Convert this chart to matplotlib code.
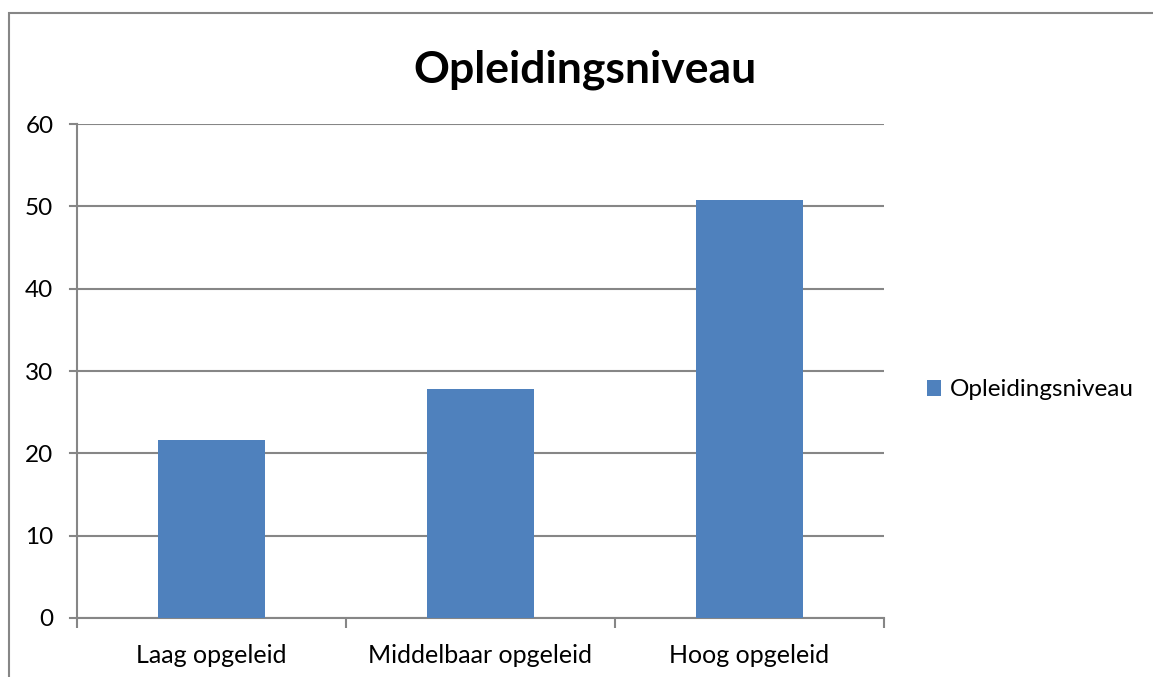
import matplotlib
matplotlib.use("Agg")
import matplotlib.pyplot as plt
from matplotlib.patches import Rectangle

categories = ["Laag opgeleid", "Middelbaar opgeleid", "Hoog opgeleid"]
values = [21.6, 27.8, 50.8]
series_name = "Opleidingsniveau"
yticks = [0, 10, 20, 30, 40, 50, 60]

W, H = 1153, 677
plt.rcParams['font.family'] = ['Lato', 'DejaVu Sans']
fig = plt.figure(figsize=(W / 100, H / 100), dpi=100)

gray = "#868686"
# outer chart frame (partly cut off at right/bottom)
fig.patches.append(Rectangle((8.5 / W, -0.1), 1.2, 1 - 12.5 / H + 0.1, transform=fig.transFigure,
                             fill=False, edgecolor=gray, linewidth=1.5))

left, right, top, bottom = 77, 884, 124, 618
ax = fig.add_axes([left / W, 1 - bottom / H, (right - left) / W, (bottom - top) / H])
x = list(range(len(categories)))
ax.bar(x, values, width=0.4, color="#4F81BD", label=series_name, zorder=3)
ax.set_xlim(-0.5, len(categories) - 0.5)
ax.set_ylim(0, 60)
ax.set_yticks(yticks)
ax.set_yticklabels([str(t) for t in yticks], fontsize=17.5)
ax.set_xticks(x)
ax.set_xticklabels(categories, fontsize=18)
ax.tick_params(axis='x', length=0, pad=19)
ax.tick_params(axis='y', length=0, pad=17)
# category boundary ticks
ax.set_xticks([-0.5 + i for i in range(len(categories) + 1)], minor=True)
ax.tick_params(axis='x', which='minor', length=7, width=1.5, color=gray, direction='out')
ax.grid(axis='y', color=gray, linewidth=1.5, zorder=0)
for s in ['top', 'right']:
    ax.spines[s].set_visible(False)
for s in ['left', 'bottom']:
    ax.spines[s].set_color(gray)
    ax.spines[s].set_linewidth(1.5)
# y ticks to left
for t in yticks:
    ax.plot([-0.5 - 7 / 269, -0.5], [t, t], color=gray, linewidth=1.5, clip_on=False, zorder=2)

fig.text(585 / W, 1 - 70 / H, "Opleidingsniveau", ha='center', va='center', fontsize=32, fontweight='bold')

leg = fig.legend(loc='center left', bbox_to_anchor=(905 / W, 1 - 390 / H), frameon=False, fontsize=17.5,
                 handlelength=0.6, handleheight=0.6, handletextpad=0.35)

fig.savefig("out.png", dpi=100)
